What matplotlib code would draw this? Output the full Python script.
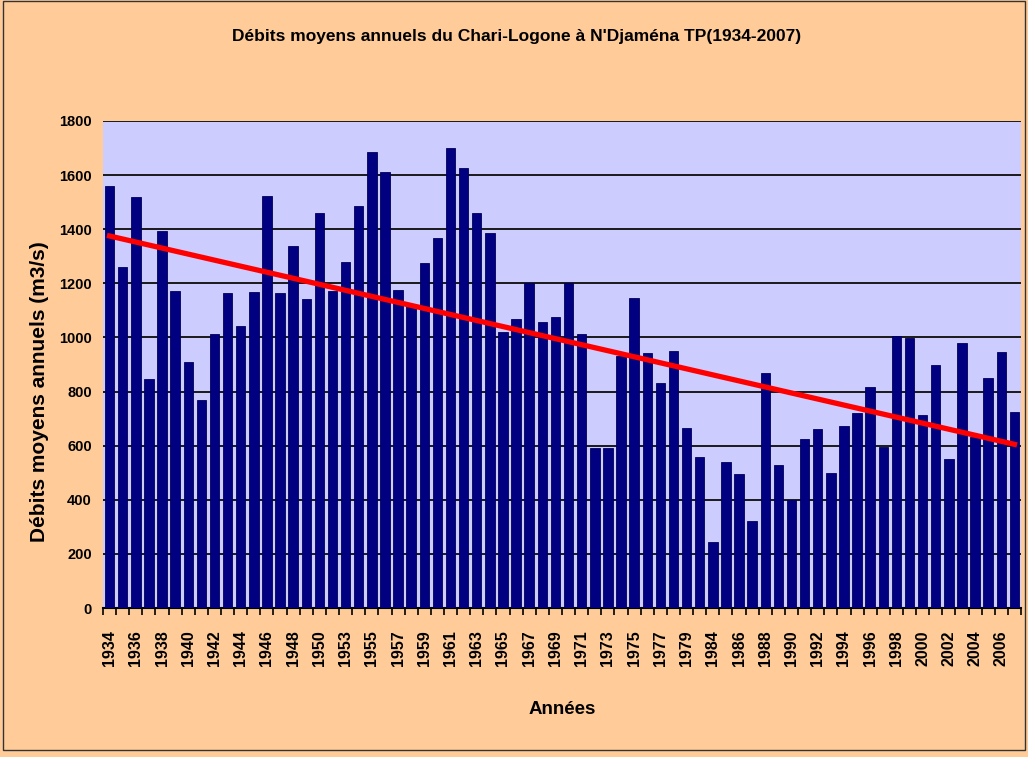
import numpy as np
import matplotlib
matplotlib.use("Agg")
import matplotlib.pyplot as plt
from matplotlib.patches import Rectangle

# annual mean discharge (m3/s), gaps in the record: 1951, 1980-1982
years = (list(range(1934, 1951)) + list(range(1952, 1980))
         + [1983] + list(range(1984, 2008)))
debits = [1560, 1260, 1520, 845, 1395, 1170, 910, 768, 1012, 1163,
          1043, 1169, 1522, 1163, 1338, 1143, 1461, 1172, 1280, 1487,
          1686, 1612, 1175, 1124, 1274, 1366, 1699, 1625, 1461, 1385,
          1021, 1068, 1200, 1056, 1074, 1200, 1012, 592, 592, 930,
          1144, 941, 833, 951, 664, 557, 245, 539, 494, 323,
          867, 528, 399, 623, 660, 498, 673, 719, 815, 596,
          1005, 997, 713, 898, 549, 980, 633, 849, 947, 723]
trend_ends = [1375, 605]

title = "Débits moyens annuels du Chari-Logone à N'Djaména TP(1934-2007)"
ylabel = "Débits moyens annuels (m3/s)"
xlabel = "Années"

narrow = ['Liberation Sans Narrow', 'Liberation Sans', 'DejaVu Sans']
arial = ['Liberation Sans', 'DejaVu Sans']

fig = plt.figure(figsize=(10.28, 7.57), dpi=100, facecolor='#FFCC99')
ax = fig.add_axes([103 / 1028, 1 - 608 / 757, 918 / 1028, 487 / 757])
ax.set_facecolor('#CCCCFF')

x = np.arange(len(years))
ax.bar(x, debits, width=0.72, color='#000080', edgecolor='#00005a',
       linewidth=0.6, zorder=3)
trend = np.linspace(trend_ends[0], trend_ends[1], len(years))
ax.plot(x, trend, color='#FF0000', linewidth=3.8, zorder=4)

ax.set_xlim(-0.5, len(years) - 0.5)
ax.set_ylim(0, 1800)
ax.set_yticks(range(0, 1801, 200))
ax.yaxis.grid(True, color='#1a1a1a', linewidth=1.4, zorder=1)
ax.tick_params(axis='y', length=0, pad=8)
for lab in ax.get_yticklabels():
    lab.set_family(narrow)
    lab.set_fontweight('bold')
    lab.set_fontsize(10.5)

ax.set_xticks(x[::2])
ax.set_xticklabels([str(y) for y in years[::2]], rotation=90,
                   family=narrow, fontweight='bold', fontsize=11.5)
ax.set_xticks(np.arange(-0.5, len(years)), minor=True)
ax.tick_params(axis='x', which='major', length=0, pad=16)
ax.tick_params(axis='x', which='minor', length=5, width=1.2, color='black')

for s in ['top', 'right', 'left']:
    ax.spines[s].set_visible(False)
ax.spines['bottom'].set_linewidth(1.5)

fig.text(517 / 1028, 1 - 36 / 757, title, ha='center', va='center',
         family=narrow, fontweight='bold', fontsize=12.5)
fig.text(40 / 1028, 1 - 392 / 757, ylabel, ha='center', va='center',
         rotation=90, family=arial, fontweight='bold', fontsize=15)
fig.text(562 / 1028, 1 - 709 / 757, xlabel, ha='center', va='center',
         family=narrow, fontweight='bold', fontsize=13.5)

fig.patches.append(Rectangle((3 / 1028, 7 / 757), 1 - 6 / 1028, 1 - 8 / 757,
                             transform=fig.transFigure, fill=False,
                             edgecolor='#333333', linewidth=1))

fig.savefig('out.png', dpi=100, facecolor=fig.get_facecolor())
